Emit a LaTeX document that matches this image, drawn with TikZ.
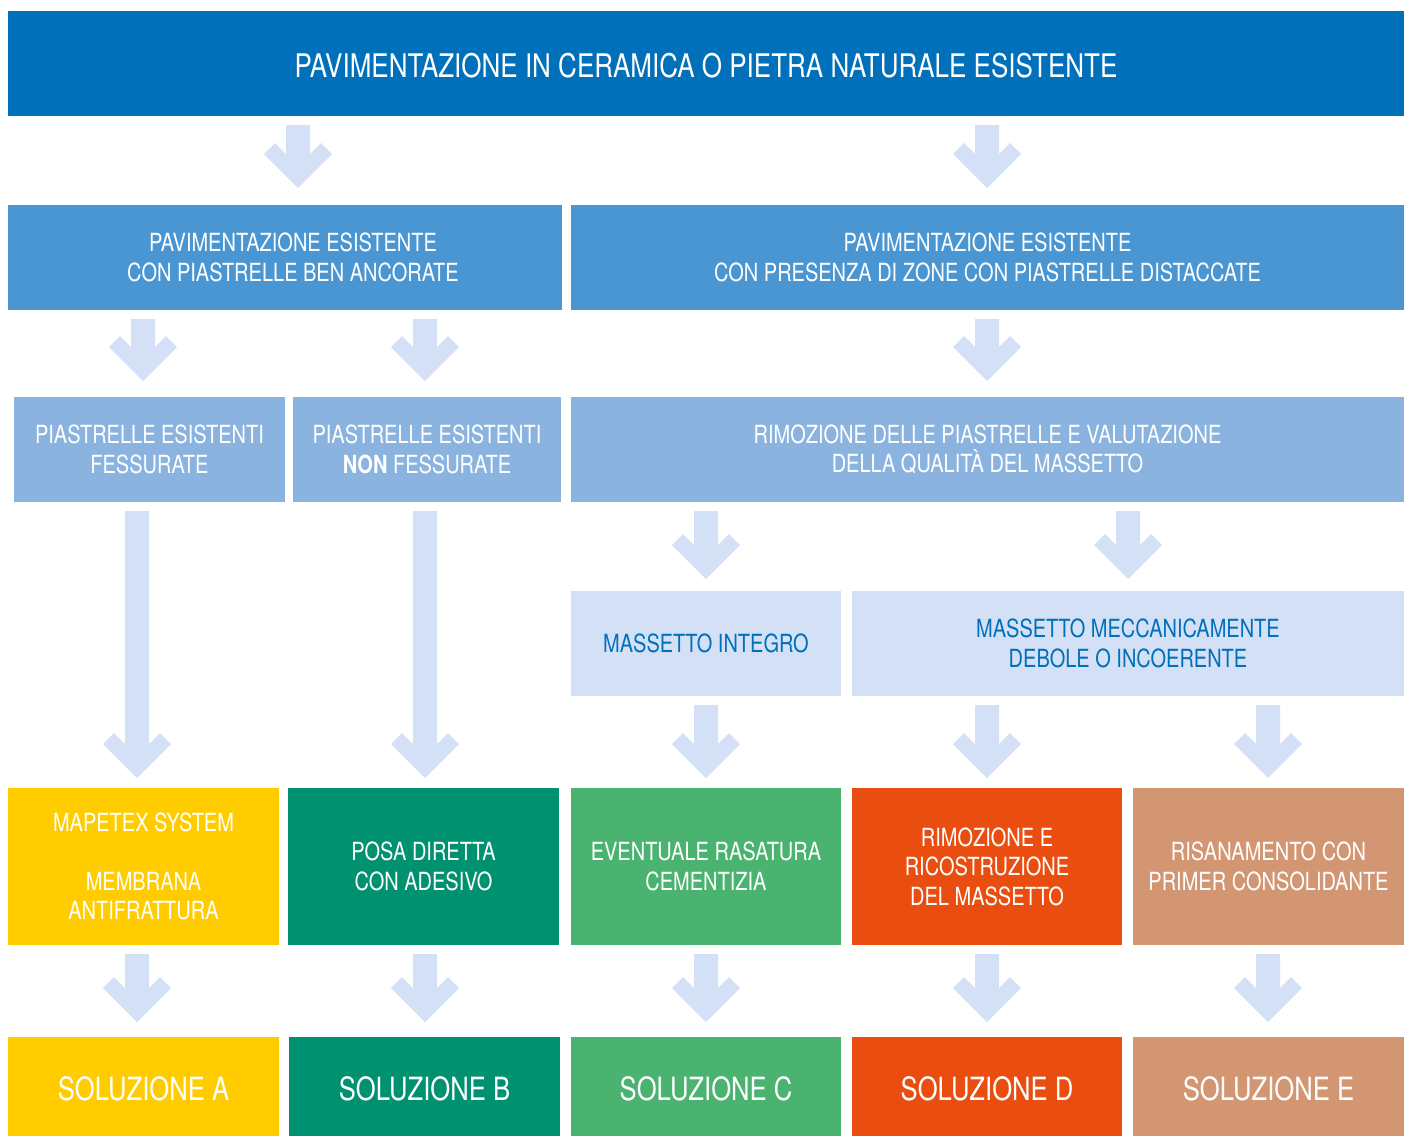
\documentclass[tikz,border=0pt]{standalone}
\usepackage{fontspec}
\setmainfont{TeX Gyre Heros}[FakeStretch=0.8]
\usetikzlibrary{calc}

\definecolor{mapeiblue}{RGB}{0,112,186}
\definecolor{midblue}{RGB}{74,150,210}
\definecolor{softblue}{RGB}{138,179,223}
\definecolor{paleblue}{RGB}{212,224,245}
\definecolor{solyellow}{RGB}{255,204,0}
\definecolor{solteal}{RGB}{0,146,112}
\definecolor{solgreen}{RGB}{75,179,112}
\definecolor{solorange}{RGB}{233,78,16}
\definecolor{soltan}{RGB}{211,150,114}

% block arrow: x position, from node, to node, gap above the target
\newcommand{\flowarrow}[4]{%
  \fill[paleblue] let \p1=(#2.south), \p2=(#3.north), \p3=(#1,0) in
    (\x3-12pt,\y1-9pt) -- (\x3+12pt,\y1-9pt) -- (\x3+12pt,\y2+#4pt+34pt)
    -- (\x3+23pt,\y2+#4pt+45pt) -- (\x3+34pt,\y2+#4pt+34pt) -- (\x3,\y2+#4pt)
    -- (\x3-34pt,\y2+#4pt+34pt) -- (\x3-23pt,\y2+#4pt+45pt) -- (\x3-12pt,\y2+#4pt+34pt) -- cycle;}
% text lowered a little inside its box
\newcommand{\lowtext}[1]{\raisebox{-2pt}[\height][0pt]{#1}}

\begin{document}
\begin{tikzpicture}[x=1pt,y=-1pt,
  box/.style={rectangle,inner sep=0pt,outer sep=0pt,anchor=north west,align=center,
    text=white,font=\fontsize{25}{29.5}\selectfont},
  solbox/.style={box,minimum height=99pt,font=\fontsize{32}{38}\selectfont}]
\useasboundingbox (0,0) rectangle (1411,1136);

% Existing floor
\node[box,fill=mapeiblue,minimum width=1396pt,minimum height=105pt,
  font=\fontsize{32.5}{38}\selectfont] (title) at (8,11)
  {\lowtext{PAVIMENTAZIONE IN CERAMICA O PIETRA NATURALE ESISTENTE}};

% Tile condition
\node[box,fill=midblue,minimum width=554pt,minimum height=105pt] (r2l) at (8,205)
  {\hspace*{16pt}PAVIMENTAZIONE ESISTENTE\\\hspace*{16pt}CON PIASTRELLE BEN ANCORATE};
\node[box,fill=midblue,minimum width=833pt,minimum height=105pt] (r2r) at (571,205)
  {PAVIMENTAZIONE ESISTENTE\\CON PRESENZA DI ZONE CON PIASTRELLE DISTACCATE};

% Cracks / removal
\node[box,fill=softblue,minimum width=271pt,minimum height=105pt] (r3a) at (14,397)
  {PIASTRELLE ESISTENTI\\FESSURATE};
\node[box,fill=softblue,minimum width=268pt,minimum height=105pt] (r3b) at (293,397)
  {PIASTRELLE ESISTENTI\\\textbf{NON} FESSURATE};
\node[box,fill=softblue,minimum width=833pt,minimum height=105pt] (r3c) at (571,397)
  {RIMOZIONE DELLE PIASTRELLE E VALUTAZIONE\\DELLA QUALITÀ DEL MASSETTO};

% Screed quality
\node[box,fill=paleblue,text=mapeiblue,minimum width=270pt,minimum height=105pt] (r4a) at (571,591)
  {MASSETTO INTEGRO};
\node[box,fill=paleblue,text=mapeiblue,minimum width=552pt,minimum height=105pt] (r4b) at (852,591)
  {MASSETTO MECCANICAMENTE\\DEBOLE O INCOERENTE};

% Treatments
\node[box,fill=solyellow,minimum width=271pt,minimum height=157pt] (r5a) at (8,788)
  {MAPETEX SYSTEM\\[29.5pt]MEMBRANA\\ANTIFRATTURA};
\node[box,fill=solteal,minimum width=271pt,minimum height=157pt] (r5b) at (288,788)
  {POSA DIRETTA\\CON ADESIVO};
\node[box,fill=solgreen,minimum width=270pt,minimum height=157pt] (r5c) at (571,788)
  {EVENTUALE RASATURA\\CEMENTIZIA};
\node[box,fill=solorange,minimum width=270pt,minimum height=157pt] (r5d) at (852,788)
  {RIMOZIONE E\\RICOSTRUZIONE\\DEL MASSETTO};
\node[box,fill=soltan,minimum width=271pt,minimum height=157pt] (r5e) at (1133,788)
  {RISANAMENTO CON\\PRIMER CONSOLIDANTE};

% Solutions
\node[solbox,fill=solyellow,minimum width=271pt] (sola) at (8,1037) {\lowtext{SOLUZIONE A}};
\node[solbox,fill=solteal,minimum width=271pt] (solb) at (289,1037) {\lowtext{SOLUZIONE B}};
\node[solbox,fill=solgreen,minimum width=270pt] (solc) at (571,1037) {\lowtext{SOLUZIONE C}};
\node[solbox,fill=solorange,minimum width=270pt] (sold) at (852,1037) {\lowtext{SOLUZIONE D}};
\node[solbox,fill=soltan,minimum width=271pt] (sole) at (1133,1037) {\lowtext{SOLUZIONE E}};

% Arrows
\flowarrow{298}{title}{r2l}{17}
\flowarrow{987}{title}{r2r}{17}
\flowarrow{143}{r2l}{r3a}{16}
\flowarrow{425}{r2l}{r3b}{16}
\flowarrow{987}{r2r}{r3c}{16}
\flowarrow{137}{r3a}{r5a}{10}
\flowarrow{425}{r3b}{r5b}{10}
\flowarrow{706}{r3c}{r4a}{12}
\flowarrow{1128}{r3c}{r4b}{12}
\flowarrow{706}{r4a}{r5c}{10}
\flowarrow{987}{r4b}{r5d}{10}
\flowarrow{1268}{r4b}{r5e}{10}
\foreach \col/\cx in {a/137,b/425,c/706,d/987,e/1268}
  \flowarrow{\cx}{r5\col}{sol\col}{15};
\end{tikzpicture}
\end{document}
